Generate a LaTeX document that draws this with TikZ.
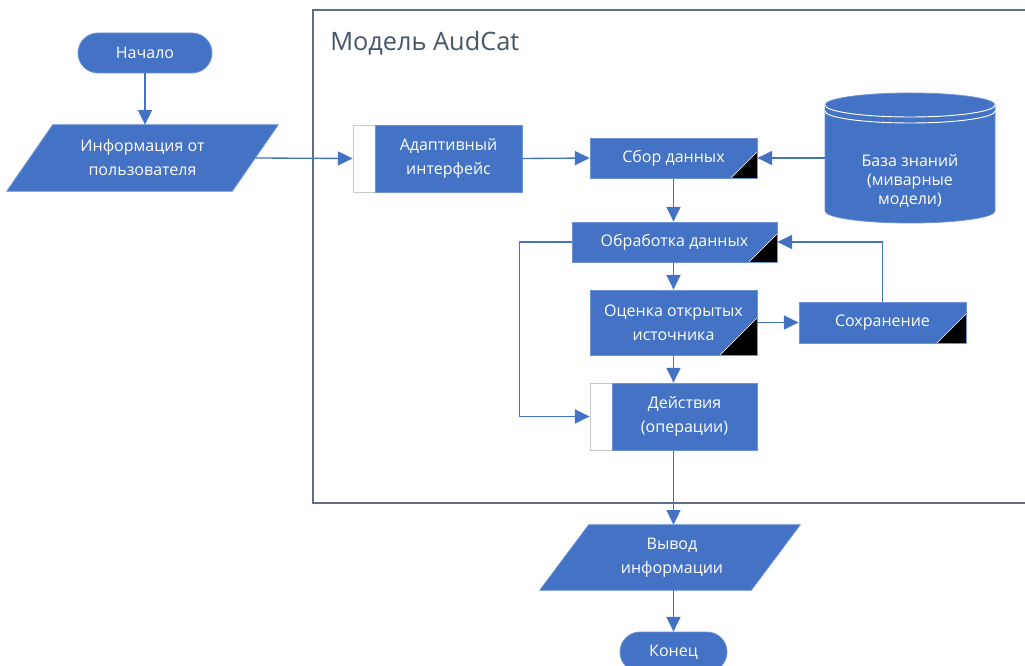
\documentclass[tikz,border=0pt]{standalone}
\usepackage{fontspec}
\setmainfont{Open Sans}
\usetikzlibrary{arrows.meta,calc}
\definecolor{fillblue}{HTML}{4472C4}
\definecolor{borderblue}{HTML}{6E93D6}
\definecolor{linkblue}{HTML}{4472C4}
\definecolor{framecol}{HTML}{5E6F82}
\definecolor{titlecol}{HTML}{46566B}
\definecolor{stripgray}{HTML}{C9C9C9}
\tikzset{
  blk/.style={rectangle, fill=fillblue, draw=borderblue, line width=0.6pt, text=white,
    align=center, inner sep=0pt, font=\fontsize{12}{18}\selectfont},
  term/.style={blk, rounded corners=15pt},
  ghost/.style={rectangle, inner sep=0pt, text=white, align=center,
    font=\fontsize{12}{18}\selectfont},
  strip/.style={rectangle, fill=white, draw=stripgray, line width=0.6pt, inner sep=0pt},
  para/.style={fill=fillblue, draw=borderblue, line width=0.6pt},
  corner/.style={path picture={
    \fill[black] (path picture bounding box.south east) -- ++(0,-#1) -- ++(-#1,#1) -- cycle;
    \draw[white, line width=0.5pt] (path picture bounding box.south east) ++(0,-#1) -- ++(-#1,#1);}},
  arr/.style={draw=linkblue, line width=1pt, -{Triangle[length=11pt,width=10.5pt]}},
  frame/.style={draw=framecol, line width=1.1pt}
}
\begin{document}
\begin{tikzpicture}[x=0.75pt,y=-0.75pt]
\useasboundingbox (0,0) rectangle (1025,666);
\fill[white] (0,0) rectangle (1025,666);

% frame and title
\draw[frame] (313,10) rectangle (1040,503);
\node[anchor=base west, inner sep=0pt, text=titlecol, font=\fontsize{19}{22}\selectfont] (title) at (330,51) {Модель AudCat};

% start
\node[term, minimum width=134*0.75pt, minimum height=40*0.75pt] (start) at (145,53) {Начало};

% info parallelogram
\node[ghost, minimum width=271*0.75pt, minimum height=66*0.75pt] (info) at (142.5,158) {};
\filldraw[para] ([xshift=46*0.75pt]info.north west) -- (info.north east)
   -- ([xshift=-46*0.75pt]info.south east) -- (info.south west) -- cycle;
\node[ghost] (infoT) at (info.center) {Информация от\\пользователя};

% adaptive interface
\node[strip, minimum width=23*0.75pt, minimum height=67*0.75pt] (adaptS) at (364.5,158.5) {};
\node[blk, minimum width=147*0.75pt, minimum height=67*0.75pt] (adapt) at (448.5,158.5) {Адаптивный\\интерфейс};

% collection
\node[blk, corner=26, minimum width=167*0.75pt, minimum height=40*0.75pt] (sbor) at (673.5,158) {Сбор данных};

% knowledge base cylinder
\node[ghost, minimum width=170*0.75pt, minimum height=130*0.75pt] (kb) at (910,158) {};
\filldraw[para] (825,105) -- (825,211)
  .. controls (825,217.6) and (863.1,223) .. (910,223)
  .. controls (956.9,223) and (995,217.6) .. (995,211)
  -- (995,105)
  .. controls (995,98.4) and (956.9,93) .. (910,93)
  .. controls (863.1,93) and (825,98.4) .. (825,105) -- cycle;
\draw[white, line width=0.7pt] (825,105)
  .. controls (825,111.6) and (863.1,117) .. (910,117)
  .. controls (956.9,117) and (995,111.6) .. (995,105);
\draw[white, line width=0.7pt] (825,111)
  .. controls (825,117.6) and (863.1,123) .. (910,123)
  .. controls (956.9,123) and (995,117.6) .. (995,111);
\node[ghost, font=\fontsize{12}{14}\selectfont] (kbT) at (910,181) {База знаний\\(миварные\\модели)};

% processing
\node[blk, corner=28, minimum width=205*0.75pt, minimum height=40*0.75pt] (obr) at (674.5,242) {Обработка данных};

% evaluation
\node[blk, corner=37, minimum width=167*0.75pt, minimum height=65*0.75pt] (ocen) at (673.5,322.5) {Оценка открытых\\источника};

% saving
\node[blk, corner=29, minimum width=167*0.75pt, minimum height=41*0.75pt] (sohr) at (882.5,322.5) {Сохранение};

% actions
\node[strip, minimum width=22*0.75pt, minimum height=67*0.75pt] (deistS) at (601,416.5) {};
\node[blk, minimum width=145*0.75pt, minimum height=67*0.75pt] (deist) at (684.5,416.5) {Действия\\(операции)};

% output parallelogram
\node[ghost, minimum width=260*0.75pt, minimum height=65*0.75pt] (vyvod) at (670,557.5) {};
\filldraw[para] ([xshift=49*0.75pt]vyvod.north west) -- (vyvod.north east)
   -- ([xshift=-49*0.75pt]vyvod.south east) -- (vyvod.south west) -- cycle;
\node[ghost] (vyvodT) at (672,557.5) {Вывод\\информации};

% end
\node[term, minimum width=107*0.75pt, minimum height=40*0.75pt] (end) at (673.5,652) {Конец};

% connectors
\draw[arr] (start.south) -- (start.south |- info.north);
\draw[arr] ([xshift=-23*0.75pt]info.east) -- (adaptS.west);
\draw[arr] (adapt.east) -- (sbor.west);
\draw[arr] (kb.west) -- (sbor.east);
\draw[arr] (sbor.south) -- (sbor.south |- obr.north);
\draw[arr] (sbor.south |- obr.south) -- (sbor.south |- ocen.north);
\draw[arr] (ocen.east) -- (sohr.west);
\draw[arr] (sohr.north) |- (obr.east);
\draw[arr] (ocen.south) -- (ocen.south |- deistS.north);
\draw[arr] (obr.west) -- ++(-52,0) |- (deistS.west);
\draw[arr] (ocen.south |- deist.south) -- (ocen.south |- vyvod.north);
\draw[arr] (ocen.south |- vyvod.south) -- (ocen.south |- end.north);
\end{tikzpicture}
\end{document}
